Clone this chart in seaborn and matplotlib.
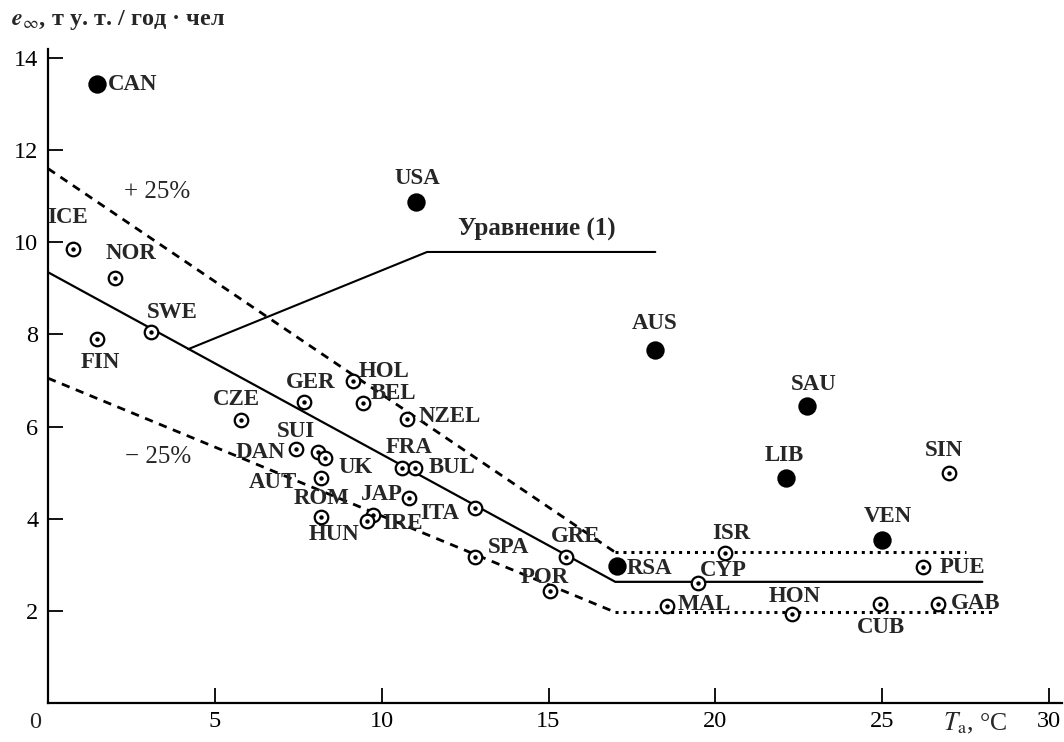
import matplotlib
matplotlib.use("Agg")
import matplotlib.pyplot as plt
import seaborn as sns
import pandas as pd

# ---------------- data ----------------
countries = ["CAN", "USA", "AUS", "SAU", "LIB", "VEN", "RSA",
             "ICE", "NOR", "SWE", "FIN", "CZE", "GER", "HOL", "BEL", "NZEL",
             "DAN", "SUI", "UK", "AUT", "HUN", "ROM", "IRE", "JAP", "ITA",
             "FRA", "BUL", "SPA", "POR", "GRE", "CYP", "ISR", "MAL", "HON",
             "CUB", "GAB", "PUE", "SIN"]
temperature = [1.47, 11.03, 18.19, 22.74, 22.12, 24.99, 17.05,
               0.75, 2.01, 3.09, 1.47, 5.78, 7.67, 9.14, 9.44, 10.76,
               7.43, 8.09, 8.30, 8.18, 8.18, 9.74, 9.56, 10.82, 12.80,
               10.61, 11.00, 12.80, 15.05, 15.52, 19.48, 20.29, 18.55, 22.30,
               24.93, 26.67, 26.22, 27.00]
energy = [13.44, 10.87, 7.66, 6.45, 4.88, 3.54, 2.97,
          9.85, 9.22, 8.05, 7.90, 6.14, 6.53, 6.99, 6.51, 6.16,
          5.51, 5.45, 5.32, 4.88, 4.04, 4.08, 3.95, 4.45, 4.23,
          5.10, 5.10, 3.17, 2.43, 3.17, 2.60, 3.26, 2.11, 1.93,
          2.15, 2.15, 2.95, 4.99]
group = ["filled"] * 7 + ["open"] * 31

# model lines (Equation (1) and +-25 %)
main_T = [0, 17, 28]
main_e = [9.35, 2.63, 2.63]
upper_slope_T = [0, 17]
upper_slope_e = [11.6, 3.27]
upper_flat_T = [17, 27.5]
upper_flat_e = [3.27, 3.27]
lower_slope_T = [0, 17]
lower_slope_e = [7.05, 1.97]
lower_flat_T = [17, 28.4]
lower_flat_e = [1.97, 1.97]
pointer_T = [4.2, 11.36, 18.2]
pointer_e = [7.68, 9.79, 9.79]

x_ticks = [5, 10, 15, 20, 25, 30]
y_ticks = [2, 4, 6, 8, 10, 12, 14]

# label offsets in pixels (dx, dy) relative to the marker
label_offsets = {
    "CAN": (36, -1), "USA": (1, 24), "AUS": (0, 27), "SAU": (7, 21),
    "LIB": (-2, 23), "VEN": (6, 23), "RSA": (33, -2), "ICE": (-5, 32),
    "NOR": (16, 25), "SWE": (21, 20), "FIN": (3, -23), "CZE": (-4, 21),
    "GER": (7, 20), "HOL": (31, 9), "BEL": (30, 10), "NZEL": (43, 3),
    "DAN": (-36, -3), "SUI": (-22, 20), "UK": (31, -10), "AUT": (-48, -4),
    "HUN": (13, -18), "ROM": (-51, 17), "IRE": (35, -2), "JAP": (-27, 3),
    "ITA": (-35, -5), "FRA": (7, 21), "BUL": (37, 1), "SPA": (33, 9),
    "POR": (-5, 14), "GRE": (10, 20), "CYP": (25, 13), "ISR": (6, 19),
    "MAL": (37, 1), "HON": (3, 18), "CUB": (1, -24), "GAB": (38, 0),
    "PUE": (40, 0), "SIN": (-5, 23),
}

df = pd.DataFrame({"country": countries, "T": temperature,
                   "e": energy, "group": group})

# ---------------- style ----------------
sns.set_style("ticks")
plt.rcParams["font.family"] = ["Liberation Serif", "DejaVu Serif"]
plt.rcParams["mathtext.fontset"] = "stix"

fig = plt.figure(figsize=(10.64, 7.42), dpi=100)
ax = fig.add_axes([48 / 1064, 39 / 742, 1014.4 / 1064, 654.2 / 742])

# lines
line_kw = dict(ax=ax, sort=False, estimator=None, color="black", legend=False)
sns.lineplot(x=main_T, y=main_e, linewidth=1.6, **line_kw)
sns.lineplot(x=pointer_T, y=pointer_e, linewidth=1.5, **line_kw)
sns.lineplot(x=upper_slope_T, y=upper_slope_e, linewidth=2.0,
             linestyle=(0, (3, 2.4)), **line_kw)
sns.lineplot(x=lower_slope_T, y=lower_slope_e, linewidth=2.0,
             linestyle=(0, (3, 2.4)), **line_kw)
sns.lineplot(x=upper_flat_T, y=upper_flat_e, linewidth=2.2,
             linestyle=(0, (1, 1.6)), **line_kw)
sns.lineplot(x=lower_flat_T, y=lower_flat_e, linewidth=2.2,
             linestyle=(0, (1, 1.6)), **line_kw)

# markers
filled = df[df["group"] == "filled"]
opened = df[df["group"] == "open"]
sns.scatterplot(data=filled, x="T", y="e", ax=ax, s=175, color="black",
                edgecolor="black", linewidth=0, zorder=5, legend=False)
sns.scatterplot(data=opened, x="T", y="e", ax=ax, s=95, facecolor="white",
                edgecolor="black", linewidth=1.6, zorder=5, legend=False)
sns.scatterplot(data=opened, x="T", y="e", ax=ax, s=10, color="black",
                linewidth=0, zorder=6, legend=False)

# labels
for c, t, e in zip(countries, temperature, energy):
    dx, dy = label_offsets[c]
    ax.annotate(c, xy=(t, e), xytext=(dx, dy), textcoords="offset pixels",
                ha="center", va="center", fontsize=16.5, fontweight="bold",
                zorder=7)

ax.text(14.65, 10.27, "Уравнение (1)", ha="center", va="center",
        fontsize=18, fontweight="bold")
ax.text(3.26, 11.09, "+ 25%", ha="center", va="center", fontsize=18)
ax.text(3.3, 5.34, "− 25%", ha="center", va="center", fontsize=18)

# axes
ax.set_xlim(0, 30.4)
ax.set_ylim(0, 14.2)
ax.set_xticks(x_ticks)
ax.set_xticklabels([str(v) for v in x_ticks])
ax.set_yticks(y_ticks)
ax.set_yticklabels([str(v) for v in y_ticks])
ax.tick_params(direction="in", length=11, width=1.3, labelsize=17.5,
               colors="black")
ax.tick_params(axis="x", pad=6)
ax.tick_params(axis="y", pad=7)
for side in ["top", "right"]:
    ax.spines[side].set_visible(False)
for side in ["left", "bottom"]:
    ax.spines[side].set_linewidth(1.6)
    ax.spines[side].set_color("black")
ax.set_xlabel("")
ax.set_ylabel("")

ax.annotate("0", xy=(0, 0), xytext=(-13, -19), textcoords="offset pixels",
            ha="center", va="center", fontsize=17.5, annotation_clip=False)

fig.text(11 / 1064, 1 - 20 / 742, "$\\mathbfit{e}_{\\infty}$, т у. т. / год · чел",
         ha="left", va="center", fontsize=17.5, fontweight="bold")
fig.text(975 / 1064, 1 - 723 / 742, "$T_{\\mathrm{a}}$, °C",
         ha="center", va="center", fontsize=18.5)

fig.savefig("out.png", dpi=100, facecolor="white")
